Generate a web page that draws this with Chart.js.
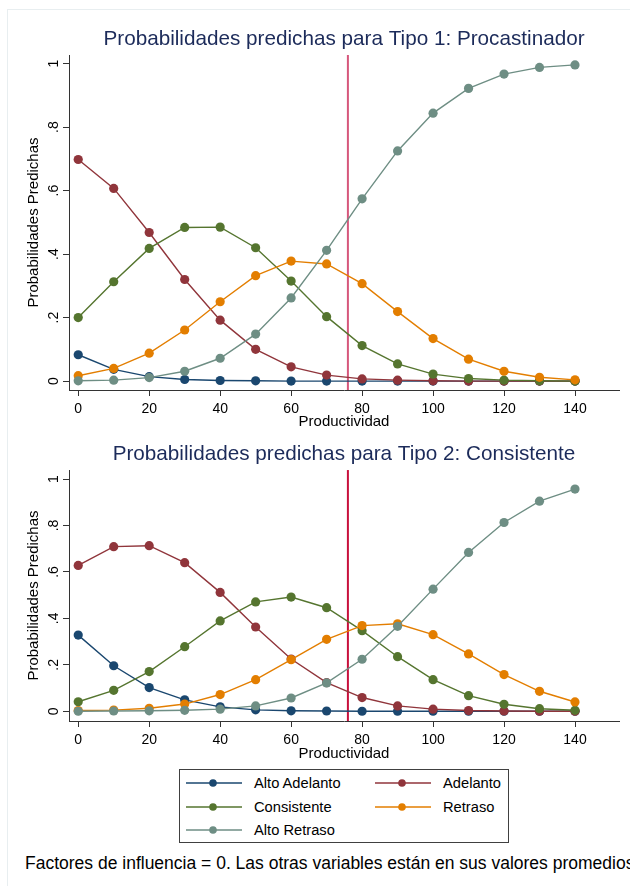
<!DOCTYPE html>
<html lang="es">
<head>
<meta charset="utf-8">
<title>Probabilidades predichas</title>
<script src="https://cdn.jsdelivr.net/npm/chart.js@4/dist/chart.umd.min.js"></script>
<style>
  html, body { margin: 0; padding: 0; background: #fff; overflow: hidden; }
  body { position: relative; width: 630px; height: 886px; font-family: "Liberation Sans", Arial, sans-serif; }
  .marco { position: absolute; left: 7px; top: 9px; width: 640px; height: 900px; border: 1px solid #e8eef0; }
  #graf1 { position: absolute; left: 0; top: 0; }
  #graf2 { position: absolute; left: 0; top: 440px; }
  #leyenda { position: absolute; left: 179px; top: 769px; width: 328px; height: 72px; border: 1px solid #404040; background: #fff; }
  .item { position: absolute; height: 20px; line-height: 20px; font-size: 14.7px; color: #000; white-space: nowrap; }
  .item svg { position: absolute; left: 0; top: 4px; }
  .item span { position: absolute; left: 68px; top: 0; }
  #nota { position: absolute; left: 25px; top: 852px; font-size: 17.5px; line-height: 22px; color: #000; white-space: nowrap; }
</style>
</head>
<body>
<div class="marco"></div>
<canvas id="graf1" width="630" height="440"></canvas>
<canvas id="graf2" width="630" height="330"></canvas>
<div id="leyenda"></div>
<div id="nota">Factores de influencia = 0. Las otras variables están en sus valores promedios</div>

<script>
// Eje X: niveles de productividad
const productividad = [0, 10, 20, 30, 40, 50, 60, 70, 80, 90, 100, 110, 120, 130, 140];

// Categorías de la variable dependiente
const categorias = ["Alto Adelanto", "Adelanto", "Consistente", "Retraso", "Alto Retraso"];
const colores = ["#1a476f", "#90353b", "#55752f", "#e37e00", "#6e8e84"];

// Tipo 1: Procastinador
const altoAdelanto1 = [0.083, 0.037, 0.014, 0.005, 0.002, 0.001, 0, 0, 0, 0, 0, 0, 0, 0, 0];
const adelanto1     = [0.698, 0.607, 0.468, 0.320, 0.192, 0.100, 0.045, 0.019, 0.007, 0.003, 0.001, 0, 0, 0, 0];
const consistente1  = [0.200, 0.313, 0.418, 0.484, 0.485, 0.420, 0.315, 0.203, 0.112, 0.054, 0.022, 0.008, 0.003, 0.001, 0];
const retraso1      = [0.017, 0.040, 0.088, 0.161, 0.250, 0.332, 0.378, 0.369, 0.307, 0.219, 0.134, 0.069, 0.031, 0.012, 0.004];
const altoRetraso1  = [0.001, 0.003, 0.011, 0.031, 0.072, 0.148, 0.262, 0.412, 0.574, 0.725, 0.844, 0.922, 0.967, 0.988, 0.996];

// Tipo 2: Consistente
const altoAdelanto2 = [0.328, 0.196, 0.102, 0.049, 0.019, 0.006, 0.002, 0.001, 0, 0, 0, 0, 0, 0, 0];
const adelanto2     = [0.628, 0.709, 0.713, 0.640, 0.512, 0.363, 0.225, 0.123, 0.059, 0.023, 0.009, 0.003, 0.001, 0, 0];
const consistente2  = [0.041, 0.090, 0.171, 0.278, 0.389, 0.471, 0.492, 0.446, 0.347, 0.235, 0.136, 0.067, 0.030, 0.011, 0.004];
const retraso2      = [0.003, 0.005, 0.013, 0.031, 0.072, 0.136, 0.222, 0.310, 0.369, 0.377, 0.330, 0.247, 0.158, 0.086, 0.040];
const altoRetraso2  = [0, 0.001, 0.002, 0.004, 0.009, 0.023, 0.057, 0.122, 0.224, 0.366, 0.526, 0.684, 0.813, 0.905, 0.957];

// Línea vertical de referencia (productividad promedio)
const productividadRef = 76;

const yTicks = [0, 0.2, 0.4, 0.6, 0.8, 1];

Chart.defaults.font.family = '"Liberation Sans", Arial, sans-serif';
Chart.defaults.color = "#000";

// Dibuja la línea vertical usando la escala X
const lineaRef = {
  id: "lineaRef",
  beforeDatasetsDraw(chart, args, opts) {
    const { ctx, chartArea, scales } = chart;
    const px = scales.x.getPixelForValue(opts.valor);
    ctx.save();
    ctx.strokeStyle = opts.color;
    ctx.lineWidth = 2;
    ctx.beginPath();
    ctx.moveTo(px, chartArea.top);
    ctx.lineTo(px, chartArea.bottom);
    ctx.stroke();
    ctx.restore();
  },
};

function etiquetaY(v) {
  if (v === 0) return "0";
  if (v === 1) return "1";
  return v.toFixed(1).replace("0.", ".");
}

function crearGrafico(id, titulo, series, op) {
  const datasets = series.map((vals, i) => ({
    label: categorias[i],
    data: productividad.map((x, k) => ({ x: x, y: vals[k] })),
    borderColor: colores[i],
    backgroundColor: colores[i],
    pointBackgroundColor: colores[i],
    pointBorderColor: colores[i],
    pointBorderWidth: 0,
    pointRadius: 4.6,
    borderWidth: 1.4,
    tension: 0,
    order: series.length - i,
  }));

  return new Chart(document.getElementById(id).getContext("2d"), {
    type: "line",
    data: { datasets: datasets },
    plugins: [lineaRef],
    options: {
      responsive: false,
      animation: false,
      devicePixelRatio: 1,
      layout: { padding: { left: 0, right: 11, top: 0, bottom: 0 } },
      scales: {
        x: {
          type: "linear",
          min: -2.6,
          max: 152.4,
          border: { display: true, color: "#333", width: 1 },
          grid: { display: true, drawOnChartArea: false, drawTicks: true, tickLength: 6, color: "#333" },
          ticks: { stepSize: 20, includeBounds: false, padding: 5, font: { size: 14 }, color: "#000" },
          title: {
            display: true,
            text: "Productividad",
            font: { size: 15 },
            color: "#000",
            padding: { top: 0, bottom: op.xTitlePad },
          },
          afterFit(scale) { scale.height = op.xAltura; },
        },
        y: {
          type: "linear",
          min: op.yMin,
          max: op.yMax,
          border: { display: true, color: "#333", width: 1 },
          grid: { display: true, drawOnChartArea: false, drawTicks: true, tickLength: 6, color: "#333" },
          afterBuildTicks(scale) { scale.ticks = yTicks.map(v => ({ value: v })); },
          ticks: {
            callback: etiquetaY,
            minRotation: 90,
            maxRotation: 90,
            crossAlign: "center",
            padding: 3,
            font: { size: 14 },
            color: "#000",
          },
          title: {
            display: true,
            text: "Probabilidades Predichas",
            font: { size: 15 },
            color: "#000",
            padding: { top: 25, bottom: 0 },
          },
          afterFit(scale) { scale.width = 69; },
        },
      },
      plugins: {
        legend: { display: false },
        tooltip: { enabled: false },
        title: {
          display: true,
          fullSize: false,
          text: titulo,
          color: "#1c2b5a",
          font: { size: 20.7, weight: "normal", lineHeight: 1.2 },
          padding: op.tituloPad,
        },
        lineaRef: { valor: productividadRef, color: op.colorRef },
      },
    },
  });
}

crearGrafico("graf1", "Probabilidades predichas para Tipo 1: Procastinador",
  [altoAdelanto1, adelanto1, consistente1, retraso1, altoRetraso1],
  { yMin: -0.028, yMax: 1.027, xAltura: 50, xTitlePad: 9, tituloPad: { top: 26.6, bottom: 3.6 }, colorRef: "#d6577c" });

crearGrafico("graf2", "Probabilidades predichas para Tipo 2: Consistente",
  [altoAdelanto2, adelanto2, consistente2, retraso2, altoRetraso2],
  { yMin: -0.042, yMax: 1.039, xAltura: 49, xTitlePad: 7, tituloPad: { top: 2, bottom: 3.2 }, colorRef: "#c8103c" });

// Leyenda en dos columnas con línea y marcador
const leyenda = document.getElementById("leyenda");
const colX = [6, 195];
const filaY = [13, 37, 60];
categorias.forEach((nombre, i) => {
  const item = document.createElement("div");
  item.className = "item";
  item.style.left = colX[i % 2] + "px";
  item.style.top = (filaY[Math.floor(i / 2)] - 10) + "px";
  item.innerHTML =
    '<svg width="56" height="12"><line x1="0" y1="6" x2="56" y2="6" stroke="' + colores[i] +
    '" stroke-width="1.6"/><circle cx="27" cy="6" r="3.8" fill="' + colores[i] + '"/></svg>' +
    "<span>" + nombre + "</span>";
  leyenda.appendChild(item);
});
</script>
</body>
</html>
